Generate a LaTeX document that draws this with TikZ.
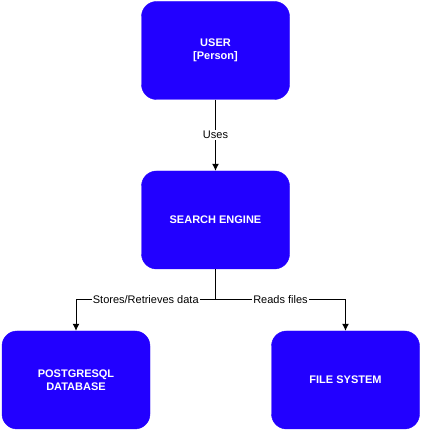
\documentclass[tikz,border=0pt]{standalone}
\usepackage{fontspec}
\setmainfont{Liberation Sans}
\usetikzlibrary{positioning,arrows.meta}
\definecolor{boxblue}{RGB}{34,0,255}
\tikzset{
  block/.style={draw=boxblue, fill=boxblue, rounded corners=15pt, minimum width=148pt, minimum height=98pt, text=white, font=\fontsize{11}{13}\selectfont\bfseries, align=center},
  lbl/.style={fill=white, inner sep=1pt, font=\fontsize{11}{13}\selectfont},
  link/.style={line width=1pt, -{Latex[length=7pt, width=7pt]}}
}
\begin{document}
\begin{tikzpicture}[x=1pt, y=1pt]
        \useasboundingbox (0,0) rectangle (421,431);
        \node[block] (user) at (215.5,380.5) {USER\\{}[Person]};
        \node[block] (engine) at (215.5,211) {SEARCH ENGINE};
        \node[block] (db) at (76,51) {POSTGRESQL\\DATABASE};
        \node[block] (fs) at (345.5,51) {FILE SYSTEM};
        \coordinate (split) at (215.5,131);

        \draw[link] (user) -- node[lbl] {Uses} (engine);
        \draw[line width=1pt] (engine) -- (split);
        \draw[link] (split) -- node[lbl, pos=0.5] {Stores/Retrieves data} (split -| db) -- (db);
        \draw[link] (split) -- node[lbl, pos=0.5] {Reads files} (split -| fs) -- (fs);
      \end{tikzpicture}
\end{document}
